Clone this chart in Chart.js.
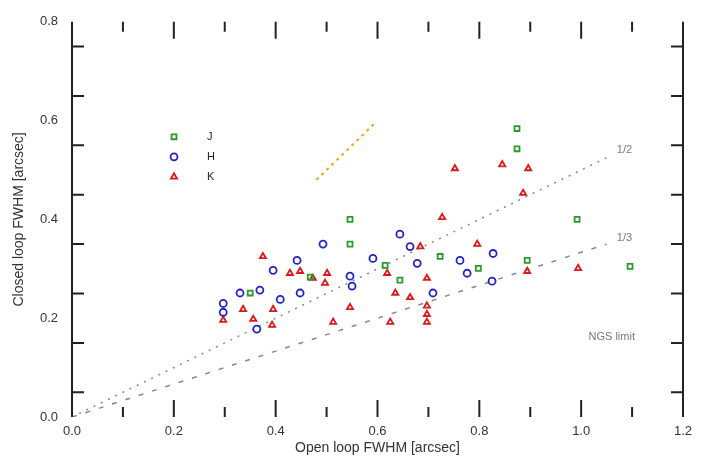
<!DOCTYPE html>
<html>
<head>
<meta charset="utf-8">
<script src="https://cdn.jsdelivr.net/npm/chart.js@4.4.0/dist/chart.umd.min.js"></script>
<style>
  html, body { margin: 0; padding: 0; background: #fff; }
  #wrap { width: 706px; height: 466px; }
</style>
</head>
<body>
<div id="wrap"><canvas id="fwhmChart" width="706" height="466"></canvas></div>
<script>
// J band (green)
const jX = [0.874, 0.874, 0.992, 1.096, 0.894, 0.798, 0.546, 0.546, 0.723, 0.644, 0.350, 0.468, 0.615];
const jY = [0.584, 0.543, 0.400, 0.305, 0.317, 0.301, 0.400, 0.350, 0.325, 0.277, 0.251, 0.283, 0.307];
// H band (blue)
const hX = [0.493, 0.644, 0.827, 0.442, 0.591, 0.678, 0.762, 0.395, 0.546, 0.776, 0.550, 0.709, 0.448, 0.409, 0.369, 0.330, 0.297, 0.363, 0.825, 0.664, 0.297];
const hY = [0.350, 0.370, 0.331, 0.317, 0.321, 0.311, 0.317, 0.297, 0.285, 0.291, 0.265, 0.251, 0.251, 0.238, 0.257, 0.251, 0.212, 0.178, 0.275, 0.345, 0.230];
// K band (red)
const kX = [0.752, 0.845, 0.896, 0.886, 0.727, 0.684, 0.796, 0.375, 0.428, 0.448, 0.473, 0.501, 0.619, 0.697, 0.497, 0.635, 0.664, 0.395, 0.336, 0.297, 0.356, 0.546, 0.625, 0.697, 0.513, 0.393, 0.894, 0.994, 0.697, 0.697];
const kY = [0.503, 0.511, 0.503, 0.453, 0.404, 0.345, 0.350, 0.325, 0.291, 0.295, 0.281, 0.291, 0.291, 0.281, 0.271, 0.251, 0.242, 0.218, 0.218, 0.196, 0.198, 0.222, 0.192, 0.208, 0.192, 0.186, 0.295, 0.301, 0.225, 0.192];

// reference lines
const oneToOneX = [0.48, 0.595];
const halfX = [0, 1.05];
const thirdX = [0, 1.05];
const lineLabels = ['1/2', '1/3'];

// ticks
const xLabels = [0, 0.2, 0.4, 0.6, 0.8, 1.0, 1.2];
const yLabels = [0, 0.2, 0.4, 0.6, 0.8];
const xTickMarks = [0.1, 0.2, 0.3, 0.4, 0.5, 0.6, 0.7, 0.8, 0.9, 1.0, 1.1];
const yTickMarks = [0.05, 0.15, 0.25, 0.35, 0.45, 0.55, 0.65, 0.75];

const bands = ['J', 'H', 'K'];
const colors = ['#2a9a2a', '#2323c8', '#dd1818'];
const styles = ['rect', 'circle', 'triangle'];

function pts(xs, ys) {
    return xs.map((v, i) => ({ x: v, y: ys[i] }));
}

const frame = {
    id: 'frame',
    afterDatasetsDraw(chart) {
        const { ctx, chartArea: a, scales: { x, y } } = chart;
        ctx.save();
        ctx.strokeStyle = '#222';
        ctx.lineWidth = 2;
        ctx.beginPath();
        ctx.moveTo(a.left, a.top); ctx.lineTo(a.left, a.bottom);
        ctx.moveTo(a.right, a.top); ctx.lineTo(a.right, a.bottom);
        yTickMarks.forEach(v => {
            const py = y.getPixelForValue(v);
            ctx.moveTo(a.left, py); ctx.lineTo(a.left + 12, py);
            ctx.moveTo(a.right, py); ctx.lineTo(a.right - 12, py);
        });
        xTickMarks.forEach((v, i) => {
            const px = x.getPixelForValue(v);
            const len = i % 2 === 1 ? 17 : 10;
            ctx.moveTo(px, a.top); ctx.lineTo(px, a.top + len);
            ctx.moveTo(px, a.bottom); ctx.lineTo(px, a.bottom - len);
        });
        ctx.stroke();

        // line labels
        ctx.fillStyle = '#777';
        ctx.font = '11px "Liberation Sans", sans-serif';
        ctx.textBaseline = 'middle';
        ctx.textAlign = 'left';
        ctx.fillText(lineLabels[0], x.getPixelForValue(1.07), y.getPixelForValue(1.07 / 2 + 0.005));
        ctx.fillText(lineLabels[1], x.getPixelForValue(1.07), y.getPixelForValue(1.07 / 3 + 0.005));
        ctx.textAlign = 'center';
        ctx.fillText('NGS limit', x.getPixelForValue(1.06), y.getPixelForValue(0.162));

        // legend
        bands.forEach((b, i) => {
            const ly = a.top + 115 + i * 20;
            ctx.strokeStyle = colors[i];
            ctx.fillStyle = 'rgba(0,0,0,0)';
            ctx.lineWidth = 1.8;
            Chart.helpers.drawPoint(ctx, { pointStyle: styles[i], radius: 3.5, rotation: 0, borderWidth: 1.8 }, a.left + 102, ly);
            ctx.fillStyle = '#222';
            ctx.textAlign = 'left';
            ctx.fillText(b, a.left + 135, ly);
        });
        ctx.restore();
    }
};

const ctx = document.getElementById('fwhmChart').getContext('2d');
const fwhmChart = new Chart(ctx, {
    type: 'scatter',
    data: {
        datasets: [
            {
                label: 'J', data: pts(jX, jY),
                borderColor: colors[0], backgroundColor: 'rgba(0,0,0,0)',
                pointStyle: styles[0], pointRadius: 3.5, pointBorderWidth: 1.8
            },
            {
                label: 'H', data: pts(hX, hY),
                borderColor: colors[1], backgroundColor: 'rgba(0,0,0,0)',
                pointStyle: styles[1], pointRadius: 3.5, pointBorderWidth: 1.8
            },
            {
                label: 'K', data: pts(kX, kY),
                borderColor: colors[2], backgroundColor: 'rgba(0,0,0,0)',
                pointStyle: styles[2], pointRadius: 3.5, pointBorderWidth: 1.8
            },
            {
                label: '1:1', type: 'line', data: pts(oneToOneX, oneToOneX),
                borderColor: '#e6a817', borderWidth: 2, borderDash: [3, 4],
                pointRadius: 0, fill: false
            },
            {
                label: '1/2', type: 'line', data: pts(halfX, halfX.map(v => v / 2)),
                borderColor: '#888', borderWidth: 1.5, borderDash: [2, 6],
                pointRadius: 0, fill: false
            },
            {
                label: '1/3', type: 'line', data: pts(thirdX, thirdX.map(v => v / 3)),
                borderColor: '#888', borderWidth: 1.5, borderDash: [5, 9],
                pointRadius: 0, fill: false
            }
        ]
    },
    options: {
        responsive: false,
        animation: false,
        layout: { padding: { top: 13, right: 23, bottom: 0, left: 0 } },
        plugins: { legend: { display: false }, tooltip: { enabled: false } },
        scales: {
            x: {
                type: 'linear', min: 0, max: 1.2,
                afterBuildTicks: s => { s.ticks = xLabels.map(v => ({ value: v })); },
                afterFit: s => { s.height = 49; },
                grid: { display: false, drawTicks: false },
                border: { display: false },
                ticks: {
                    padding: 7, color: '#333', maxRotation: 0,
                    font: { family: 'Liberation Sans', size: 13 },
                    callback: v => Number(v).toFixed(1)
                },
                title: {
                    display: true, text: 'Open loop FWHM [arcsec]', color: '#333',
                    font: { family: 'Liberation Sans', size: 14 },
                    padding: { top: 0, bottom: 9 }
                }
            },
            y: {
                type: 'linear', min: 0, max: 0.8,
                afterBuildTicks: s => { s.ticks = yLabels.map(v => ({ value: v })); },
                afterFit: s => { s.width = 72; },
                grid: { display: false, drawTicks: false },
                border: { display: false },
                ticks: {
                    padding: 14, color: '#333',
                    font: { family: 'Liberation Sans', size: 13 },
                    callback: v => Number(v).toFixed(1)
                },
                title: {
                    display: true, text: 'Closed loop FWHM [arcsec]', color: '#333',
                    font: { family: 'Liberation Sans', size: 14 },
                    padding: { top: 11, bottom: 0 }
                }
            }
        }
    },
    plugins: [frame]
});
</script>
</body>
</html>
